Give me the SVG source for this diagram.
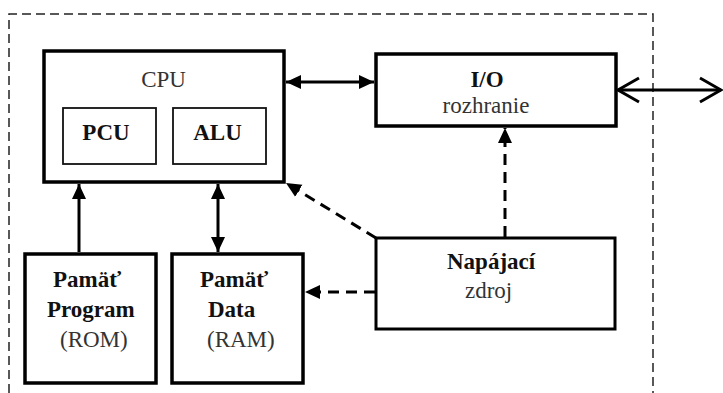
<svg xmlns="http://www.w3.org/2000/svg" width="723" height="393" viewBox="0 0 723 393">
<style>
.box{fill:#fff;stroke:#000;stroke-width:3.5}
.inner{fill:#fff;stroke:#111;stroke-width:1.8}
.t{font-family:"Liberation Serif","Times New Roman",serif;font-size:23px;fill:#333}
.b{font-weight:bold;fill:#111}
.c{stroke:#000;stroke-width:3;fill:none}
.d{stroke-dasharray:11 7}
</style>
<defs>
<marker id="arr" markerUnits="userSpaceOnUse" markerWidth="16" markerHeight="16" refX="15" refY="8" orient="auto-start-reverse" viewBox="0 0 16 16">
<path d="M0,1 L15,8 L0,15 z" fill="#000"/>
</marker>
<marker id="open" markerUnits="userSpaceOnUse" markerWidth="26" markerHeight="30" refX="22" refY="14" orient="auto-start-reverse" viewBox="0 0 26 30">
<path d="M1,2 L22,14 L1,26" fill="none" stroke="#000" stroke-width="3"/>
</marker>
</defs>
<path d="M9,393 V14 H653 V393" fill="none" stroke="#222" stroke-width="1.5" stroke-dasharray="9 5"/>
<g id="cpu">
<rect class="box" x="44" y="51" width="240" height="131"/>
<text class="t" x="163.5" y="87" text-anchor="middle">CPU</text>
</g>
<g id="pcu">
<rect class="inner" x="63" y="108" width="93" height="56"/>
<text class="t b" x="106" y="140" text-anchor="middle">PCU</text>
</g>
<g id="alu">
<rect class="inner" x="173" y="108" width="93" height="56"/>
<text class="t b" x="217.5" y="140" text-anchor="middle">ALU</text>
</g>
<g id="io">
<rect class="box" x="376" y="54" width="240" height="72"/>
<text class="t b" x="487" y="87" text-anchor="middle">I/O</text>
<text class="t" x="486" y="113" text-anchor="middle">rozhranie</text>
</g>
<g id="rom">
<rect class="box" x="25" y="254" width="131" height="129"/>
<text class="t b" x="53" y="287">Pamäť</text>
<text class="t b" x="47" y="317">Program</text>
<text class="t" x="60" y="347">(ROM)</text>
</g>
<g id="ram">
<rect class="box" x="172" y="254" width="131" height="129"/>
<text class="t b" x="200" y="287">Pamäť</text>
<text class="t b" x="208" y="317">Data</text>
<text class="t" x="207" y="347">(RAM)</text>
</g>
<g id="zdroj">
<rect class="box" x="376" y="238" width="239" height="91" style="stroke-width:3"/>
<text class="t b" x="447" y="269">Napájací</text>
<text class="t" x="465" y="298">zdroj</text>
</g>
<g id="connectors">
<line class="c" x1="286" y1="82" x2="374" y2="82" marker-start="url(#arr)" marker-end="url(#arr)"/>
<line class="c" x1="618" y1="90" x2="721" y2="90" marker-start="url(#open)" marker-end="url(#open)"/>
<line class="c" x1="79" y1="252" x2="79" y2="184" marker-end="url(#arr)"/>
<line class="c" x1="218" y1="184" x2="218" y2="252" marker-start="url(#arr)" marker-end="url(#arr)"/>
<line class="c d" x1="505" y1="237" x2="505" y2="128" marker-end="url(#arr)"/>
<line class="c d" x1="376" y1="238" x2="286" y2="183" marker-end="url(#arr)"/>
<line class="c d" x1="375" y1="292" x2="305" y2="292" marker-end="url(#arr)"/>
</g>
</svg>
